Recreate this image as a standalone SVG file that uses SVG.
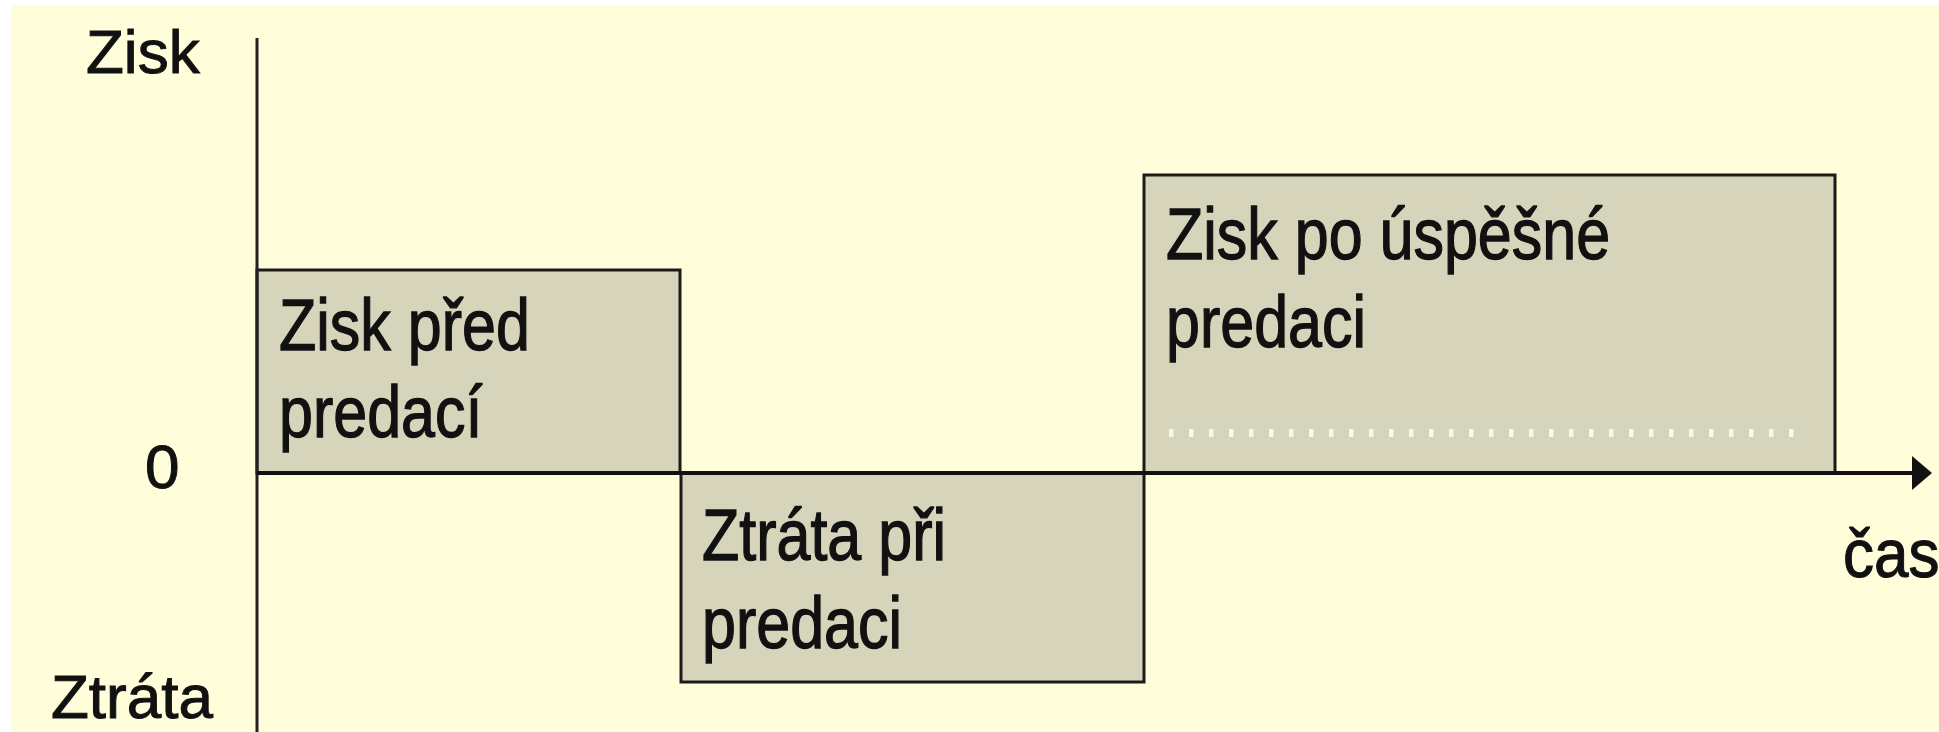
<svg xmlns="http://www.w3.org/2000/svg" width="1939" height="732" viewBox="0 0 1939 732">
  <style>
    .bg { fill: #FFFDDA; }
    .box { fill: #D6D5BB; stroke: #1a1a1a; stroke-width: 3; }
    .lbl { font-family: "Liberation Sans", Arial, sans-serif; font-size: 62px; fill: #111; stroke: #111; stroke-width: 1; }
    .btxt { font-family: "Liberation Sans", Arial, sans-serif; font-size: 61px; fill: #111; stroke: #111; stroke-width: 1.1; }
    .axis { stroke: #222; stroke-width: 3; fill: none; }
    .axis-h { stroke: #111; stroke-width: 4; fill: none; }
    .dots { stroke: #F7F7EE; stroke-width: 8; stroke-dasharray: 4.5 15.5; fill: none; }
  </style>
  <rect x="0" y="0" width="1939" height="732" fill="#FFFFFF"/>
  <rect class="bg" x="11" y="5" width="1928" height="727"/>

  <g id="box-zisk-pred">
    <rect class="box" x="257" y="270" width="423" height="203"/>
    <text class="btxt" transform="translate(279,350) scale(1,1.17)"><tspan x="0" y="0">Zisk před</tspan><tspan x="0" y="74.4">predací</tspan></text>
  </g>

  <g id="box-ztrata-pri">
    <rect class="box" x="681" y="473" width="463" height="209"/>
    <text class="btxt" transform="translate(702,560) scale(1,1.17)"><tspan x="0" y="0">Ztráta při</tspan><tspan x="0" y="75.2">predaci</tspan></text>
  </g>

  <g id="box-zisk-po">
    <rect class="box" x="1144" y="175" width="691" height="298"/>
    <text class="btxt" transform="translate(1166,259) scale(1,1.17)"><tspan x="0" y="0">Zisk po úspěšné</tspan><tspan x="0" y="75.2">predaci</tspan></text>
    <line class="dots" x1="1169" y1="433" x2="1800" y2="433"/>
  </g>

  <g id="connectors">
    <line class="axis" x1="257" y1="38" x2="257" y2="732"/>
    <line class="axis-h" x1="257" y1="473" x2="1916" y2="473"/>
    <polygon points="1912,456 1932,473 1912,490" fill="#111"/>
  </g>

  <g id="labels">
    <text class="lbl" x="86" y="73">Zisk</text>
    <text class="lbl" x="145" y="488">0</text>
    <text class="lbl" x="51" y="718">Ztráta</text>
    <text class="lbl" transform="translate(1843,577) scale(1,1.12)">čas</text>
  </g>
</svg>
